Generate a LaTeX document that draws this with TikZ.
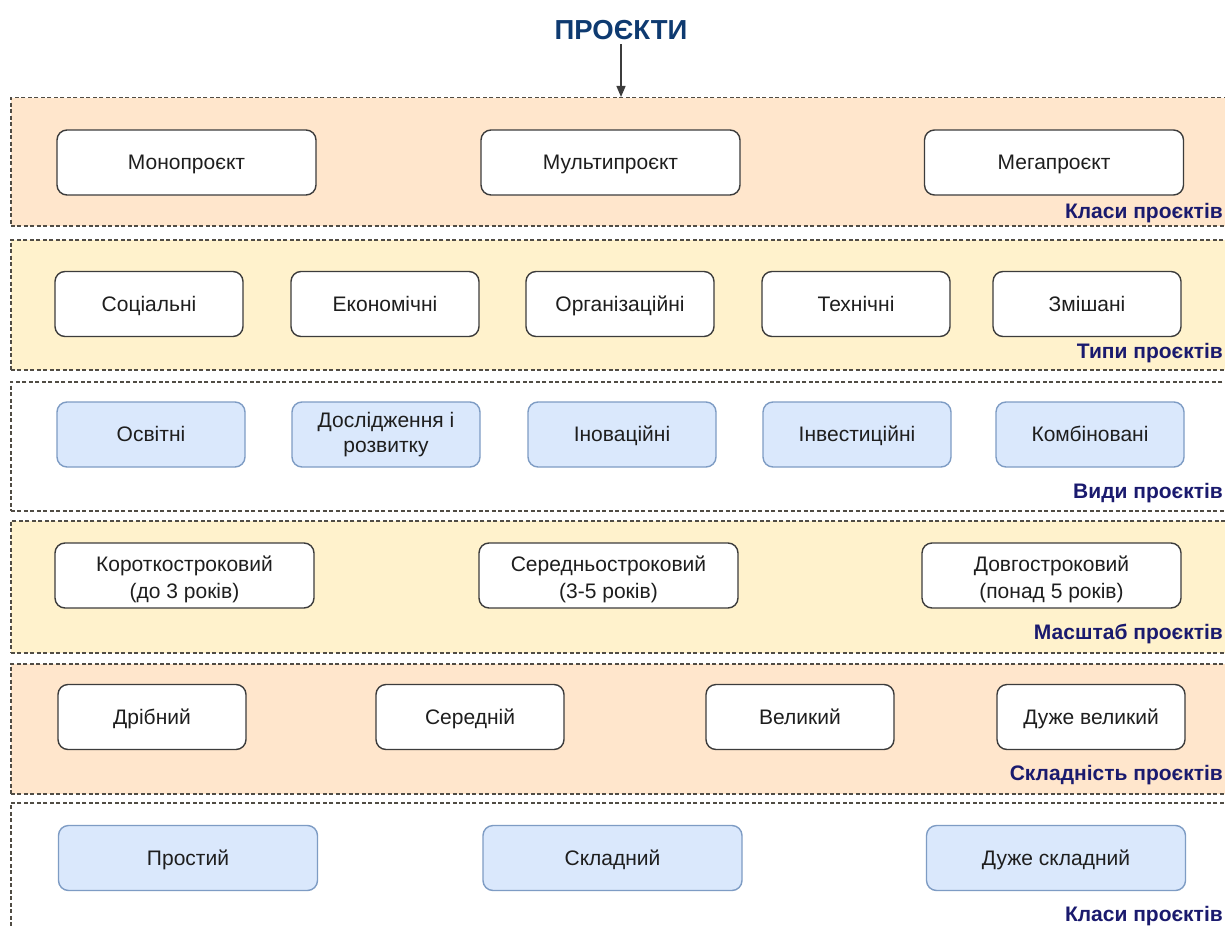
\documentclass[tikz,border=0pt]{standalone}
\usepackage{fontspec}
\setmainfont{Liberation Sans}
\usetikzlibrary{arrows.meta}
\definecolor{peach}{HTML}{FFE6CC}
\definecolor{cream}{HTML}{FFF2CC}
\definecolor{skyfill}{HTML}{DAE8FC}
\definecolor{skyline}{HTML}{7E9CC4}
\definecolor{bandline}{RGB}{80,76,68}
\definecolor{boxline}{RGB}{60,60,60}
\definecolor{boxtext}{RGB}{30,30,30}
\definecolor{labelblue}{RGB}{26,26,110}
\definecolor{titleblue}{RGB}{14,58,112}
\begin{document}
\begin{tikzpicture}[x=1pt,y=-1pt,
  band/.style={draw=bandline, line width=1.5pt, dash pattern=on 4pt off 2.5pt,
    anchor=north west, inner sep=0pt, minimum width=1240pt},
  item/.style={draw=boxline, fill=white, rounded corners=10pt, line width=1.4pt,
    minimum height=65pt, align=center, inner sep=2pt, text=boxtext,
    text height=18pt, text depth=4pt,
    font=\fontsize{21}{27}\selectfont},
  twoline/.style={text height=49pt, text depth=4pt},
  tightpair/.style={font=\fontsize{21}{25}\selectfont, text height=39pt, text depth=4pt},
  wide/.style={item, minimum width=259pt},
  narrow/.style={item, minimum width=188pt},
  blue/.style={draw=skyline, fill=skyfill},
  tag/.style={anchor=east, inner sep=0pt, text=labelblue,
    font=\fontsize{21}{23}\selectfont\bfseries}]
\clip (0,0) rectangle (1225,928);
\useasboundingbox (0,0) rectangle (1225,928);

% layers
\node[band, fill=peach, minimum height=128pt] (b1) at (10,97) {};
\node[band, fill=cream, minimum height=130pt] (b2) at (10,239) {};
\node[band, fill=white, minimum height=129pt] (b3) at (10,381) {};
\node[band, fill=cream, minimum height=132pt] (b4) at (10,520) {};
\node[band, fill=peach, minimum height=130pt] (b5) at (10,663) {};
\node[band, fill=white, minimum height=150pt] (b6) at (10,802) {};

% title and entry arrow
\node[text=titleblue, font=\fontsize{27.5}{29}\selectfont\bfseries, inner sep=0pt, text height=20pt, text depth=0pt] (title) at (621,30) {ПРОЄКТИ};
\draw[boxline, line width=1.3pt, -{Triangle[length=11pt, width=9pt]}] ([yshift=-4pt]title.south) -- (title.south |- b1.north);

% classes
\node[wide] (c1) at (186.5,162.5) {Монопроєкт};
\node[wide] (c2) at (610.5,162.5) {Мультипроєкт};
\node[wide] (c3) at (1054,162.5) {Мегапроєкт};
\node[tag] (t1) at (1223,213) {Класи проєктів};

% types
\node[narrow] (p1) at (149,304) {Соціальні};
\node[narrow] (p2) at (385,304) {Економічні};
\node[narrow] (p3) at (620,304) {Організаційні};
\node[narrow] (p4) at (856,304) {Технічні};
\node[narrow] (p5) at (1087,304) {Змішані};
\node[tag] (t2) at (1223,353) {Типи проєктів};

% kinds
\node[narrow, blue] (k1) at (151,434.5) {Освітні};
\node[narrow, blue, tightpair] (k2) at (386,434.5) {Дослідження і\\розвитку};
\node[narrow, blue] (k3) at (622,434.5) {Іноваційні};
\node[narrow, blue] (k4) at (857,434.5) {Інвестиційні};
\node[narrow, blue] (k5) at (1090,434.5) {Комбіновані};
\node[tag] (t3) at (1223,493) {Види проєктів};

% scale
\node[wide, twoline] (s1) at (184.5,575.5) {Короткостроковий\\(до 3 років)};
\node[wide, twoline] (s2) at (608.5,575.5) {Середньостроковий\\(3-5 років)};
\node[wide, twoline] (s3) at (1051.5,575.5) {Довгостроковий\\(понад 5 років)};
\node[tag] (t4) at (1223,634) {Масштаб проєктів};

% complexity
\node[narrow] (x1) at (152,717) {Дрібний};
\node[narrow] (x2) at (470,717) {Середній};
\node[narrow] (x3) at (800,717) {Великий};
\node[narrow] (x4) at (1091,717) {Дуже великий};
\node[tag] (t5) at (1223,775) {Складність проєктів};

% difficulty classes
\node[wide, blue] (d1) at (188,858) {Простий};
\node[wide, blue] (d2) at (612.5,858) {Складний};
\node[wide, blue] (d3) at (1056,858) {Дуже складний};
\node[tag] (t6) at (1223,916) {Класи проєктів};
\end{tikzpicture}
\end{document}
